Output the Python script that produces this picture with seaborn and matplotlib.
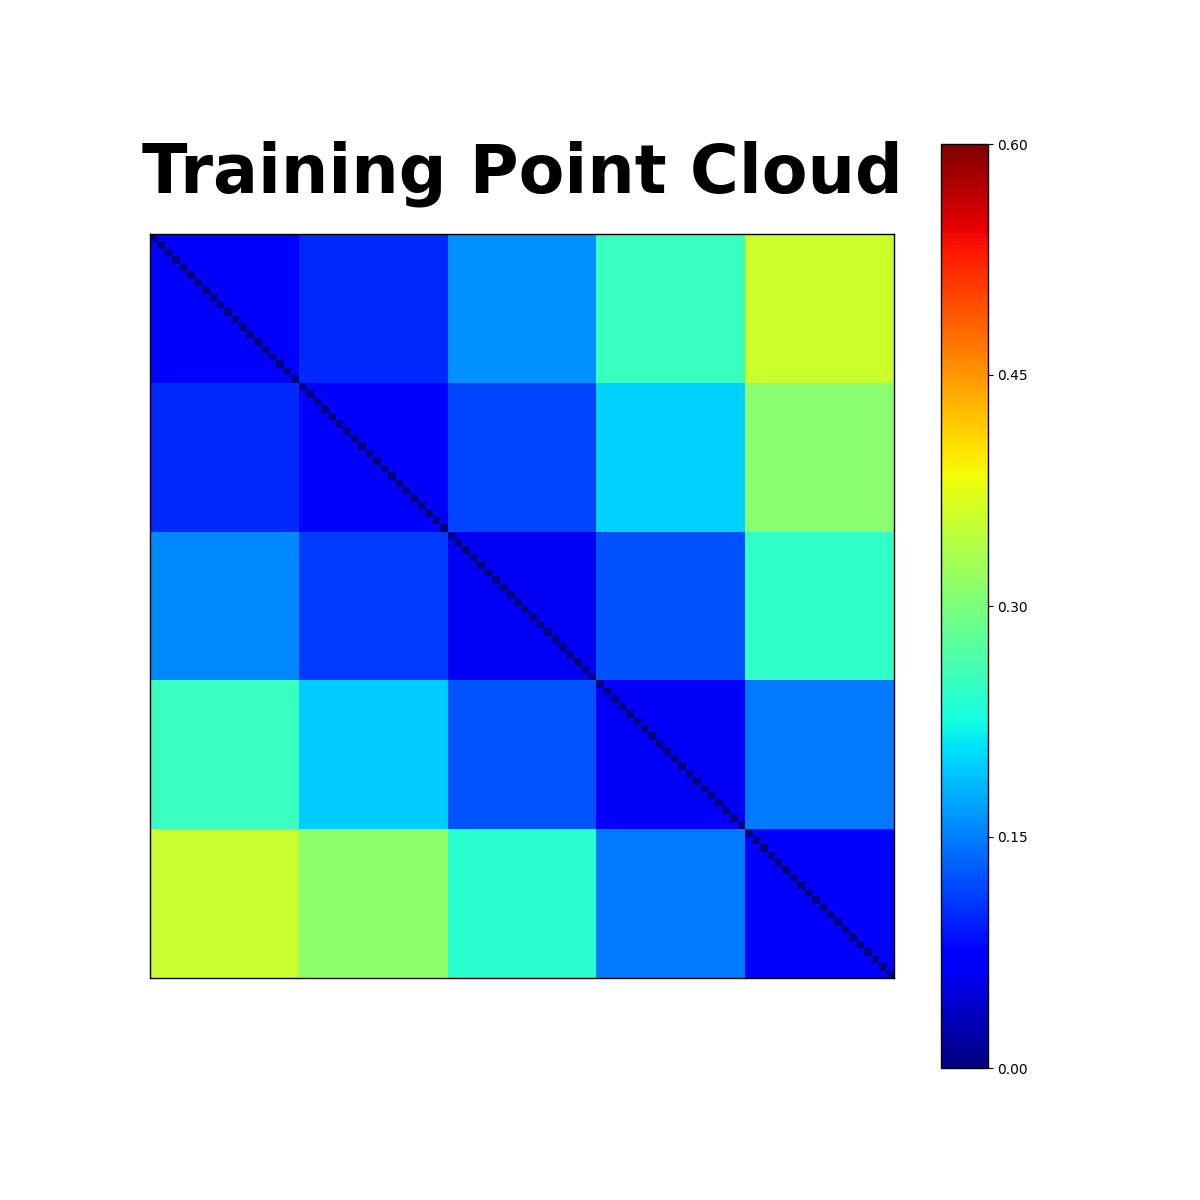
import matplotlib
matplotlib.use('Agg')
import matplotlib.pyplot as plt
import seaborn as sns
import numpy as np

# mean pairwise distance between the 5 clouds (block values), 20 points each
block_values = [
    [0.068, 0.099, 0.160, 0.252, 0.358],
    [0.100, 0.066, 0.115, 0.198, 0.310],
    [0.157, 0.110, 0.062, 0.122, 0.245],
    [0.252, 0.196, 0.126, 0.064, 0.146],
    [0.356, 0.312, 0.240, 0.146, 0.066],
]
points_per_cloud = 20
cbar_ticks = [0.00, 0.15, 0.30, 0.45, 0.60]

mat = np.kron(np.array(block_values), np.ones((points_per_cloud, points_per_cloud)))
np.fill_diagonal(mat, 0.0)

fig = plt.figure(figsize=(12, 12), dpi=100)
ax = fig.add_axes([0.125, 0.185, 0.62, 0.62])
cax = fig.add_axes([0.784, 0.11, 0.039, 0.77])

sns.heatmap(mat, ax=ax, cmap='jet', vmin=0, vmax=0.6, cbar_ax=cax,
            xticklabels=False, yticklabels=False)
for s in ax.spines.values():
    s.set_visible(True)
    s.set_color('black')
    s.set_linewidth(1)
ax.tick_params(left=False, bottom=False)

cb = ax.collections[0].colorbar
cb.set_ticks(cbar_ticks)
cb.set_ticklabels([f'{t:.2f}' for t in cbar_ticks])
cb.ax.tick_params(labelsize=10)
cb.outline.set_visible(True)
cb.outline.set_edgecolor('black')
cb.outline.set_linewidth(1)

ax.set_title('Training Point Cloud', fontsize=48, fontweight='bold', pad=30)

fig.savefig('out.png', dpi=100)
